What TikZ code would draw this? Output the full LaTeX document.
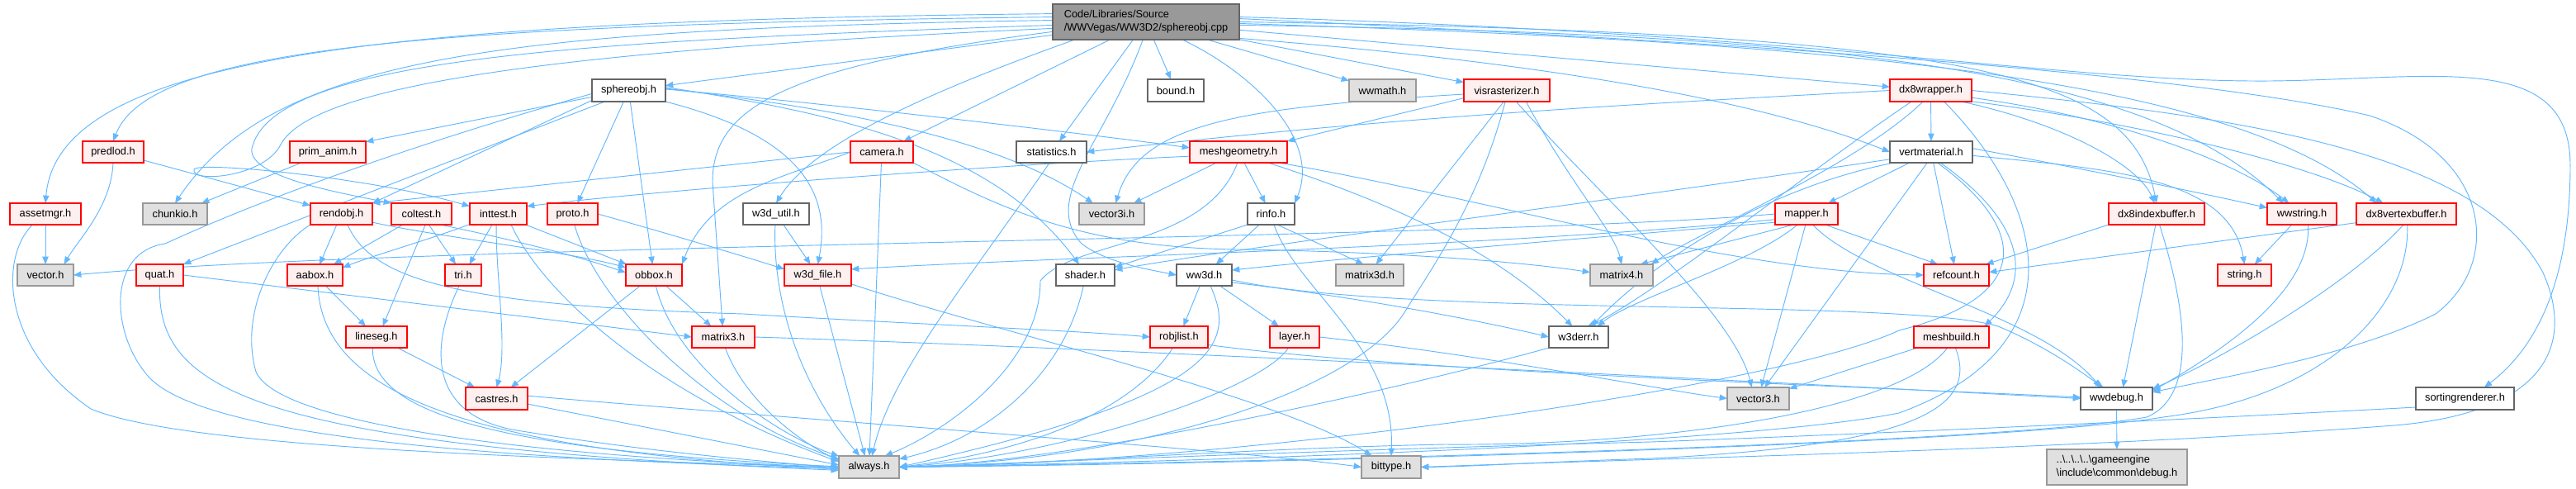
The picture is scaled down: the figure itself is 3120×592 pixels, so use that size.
\documentclass[tikz,border=0pt]{standalone}
\usepackage{fontspec}
\setmainfont{Liberation Sans}
\usetikzlibrary{arrows.meta}
\definecolor{ecol}{RGB}{99,184,255}
\definecolor{redb}{RGB}{255,0,0}
\definecolor{redf}{RGB}{255,240,240}
\definecolor{grayb}{RGB}{153,153,153}
\definecolor{grayf}{RGB}{224,224,224}
\definecolor{darkb}{RGB}{102,102,102}
\definecolor{rootf}{RGB}{153,153,153}
\pgfdeclarelayer{edges}
\pgfsetlayers{edges,main}
\newcommand{\mknode}[7]{\node[#1, minimum width={(#5-#3)*0.75pt}, minimum height={(#6-#4)*0.75pt}] (#2) at ({(#3+#5)/2},{(#4+#6)/2}) {#7};}
\begin{document}
\begin{tikzpicture}[x=0.75pt,y=-0.75pt,
  box/.style={draw, line width=0.85pt, inner sep=0pt, outer sep=0pt, font=\fontsize{9.6}{12}\selectfont, text=black},
  wn/.style={box, draw=darkb, fill=white},
  rn/.style={box, draw=redb, fill=redf},
  gn/.style={box, draw=grayb, fill=grayf},
  rootn/.style={box, draw=darkb, fill=rootf, align=left},
  lnk/.style={draw=ecol, line width=0.7pt, -{Triangle[length=7pt,width=5.5pt]}}]
\useasboundingbox (0,0) rectangle (3120,592);
% nodes
\mknode{rootn}{R}{1275}{5}{1501}{48}{Code/Libraries/Source\\/WWVegas/WW3D2/sphereobj.cpp}
\mknode{wn}{S}{717}{96}{806}{123}{sphereobj.h}
\mknode{wn}{BO}{1390}{96}{1458}{123}{bound.h}
\mknode{gn}{WM}{1634}{96}{1715}{123}{wwmath.h}
\mknode{rn}{VR}{1773}{96}{1877}{123}{visrasterizer.h}
\mknode{rn}{DW}{2289}{96}{2388}{123}{dx8wrapper.h}
\mknode{rn}{PL}{100}{171}{174}{197}{predlod.h}
\mknode{rn}{PA}{351}{171}{443}{197}{prim\_anim.h}
\mknode{rn}{CA}{1030}{171}{1106}{197}{camera.h}
\mknode{wn}{ST}{1231}{171}{1316}{197}{statistics.h}
\mknode{rn}{MG}{1441}{171}{1559}{197}{meshgeometry.h}
\mknode{wn}{VM}{2289}{171}{2389}{197}{vertmaterial.h}
\mknode{rn}{AM}{12}{246}{98}{272}{assetmgr.h}
\mknode{gn}{CK}{173}{246}{251}{272}{chunkio.h}
\mknode{rn}{RO}{376}{246}{451}{272}{rendobj.h}
\mknode{rn}{CT}{474}{246}{547}{272}{coltest.h}
\mknode{rn}{IT}{569}{246}{638}{272}{inttest.h}
\mknode{rn}{PR}{663}{246}{724}{272}{proto.h}
\mknode{wn}{WU}{900}{246}{980}{272}{w3d\_util.h}
\mknode{gn}{V3I}{1307}{246}{1386}{272}{vector3i.h}
\mknode{wn}{RI}{1511}{246}{1568}{272}{rinfo.h}
\mknode{rn}{MP}{2150}{246}{2226}{272}{mapper.h}
\mknode{rn}{DIB}{2554}{246}{2670}{272}{dx8indexbuffer.h}
\mknode{rn}{WS}{2746}{246}{2830}{272}{wwstring.h}
\mknode{rn}{DVB}{2854}{246}{2975}{272}{dx8vertexbuffer.h}
\mknode{gn}{VE}{21}{320}{89}{346}{vector.h}
\mknode{rn}{QU}{165}{320}{222}{346}{quat.h}
\mknode{rn}{AB}{348}{320}{415}{346}{aabox.h}
\mknode{rn}{TR}{539}{320}{583}{346}{tri.h}
\mknode{rn}{OB}{758}{320}{826}{346}{obbox.h}
\mknode{rn}{WF}{950}{320}{1031}{346}{w3d\_file.h}
\mknode{wn}{SH}{1279}{320}{1350}{346}{shader.h}
\mknode{wn}{W3}{1425}{320}{1492}{346}{ww3d.h}
\mknode{gn}{M3D}{1618}{320}{1700}{346}{matrix3d.h}
\mknode{gn}{M4}{1926}{320}{2002}{346}{matrix4.h}
\mknode{rn}{RC}{2330}{320}{2409}{346}{refcount.h}
\mknode{rn}{STR}{2686}{320}{2751}{346}{string.h}
\mknode{rn}{LS}{419}{395}{493}{421}{lineseg.h}
\mknode{rn}{M3}{838}{395}{914}{421}{matrix3.h}
\mknode{rn}{RL}{1393}{395}{1463}{421}{robjlist.h}
\mknode{rn}{LA}{1538}{395}{1598}{421}{layer.h}
\mknode{wn}{WE}{1876}{395}{1948}{421}{w3derr.h}
\mknode{rn}{MB}{2318}{395}{2409}{421}{meshbuild.h}
\mknode{rn}{CR}{564}{469}{639}{496}{castres.h}
\mknode{gn}{V3}{2092}{469}{2167}{496}{vector3.h}
\mknode{wn}{WD}{2520}{469}{2607}{496}{wwdebug.h}
\mknode{wn}{SR}{2926}{469}{3045}{496}{sortingrenderer.h}
\mknode{gn}{AL}{1016}{552}{1089}{579}{always.h}
\mknode{gn}{BT}{1649}{552}{1721}{579}{bittype.h}
\mknode{gn,align=left}{DB}{2479}{544}{2649}{587}{..\textbackslash..\textbackslash..\textbackslash..\textbackslash gameengine\\\textbackslash include\textbackslash common\textbackslash debug.h}
\begin{pgfonlayer}{edges}
\fill[white] (0,0) rectangle (3120,592);
% root
\draw[lnk] (R.188) -- (S);
\draw[lnk] (R) -- (BO);
\draw[lnk] (R) -- (WM);
\draw[lnk] (R) -- (VR);
\draw[lnk] (R) -- (DW);
\draw[lnk] (R) -- (CA);
\draw[lnk] (R) -- (ST);
\draw[lnk] (R.350) .. controls (1800,70) and (2100,110) .. (VM.west);
\draw[lnk] (R.175) .. controls (450,25) and (70,70) .. (AM.north);
\draw[lnk] (R.177) .. controls (500,30) and (180,60) .. (PL.north);
\draw[lnk] (R.179) .. controls (600,35) and (330,70) .. (CK.north);
\draw[lnk] (R.182) .. controls (700,50) and (330,70) .. (305,180) .. controls (300,215) and (420,235) .. (CT.north west);
\draw[lnk] (R.184) .. controls (700,60) and (380,100) .. (340,175) .. controls (320,215) and (230,222) .. (235,205) .. controls (240,195) and (450,215) .. (IT.165);
\draw[lnk] (R.186) .. controls (950,80) and (863,130) .. (863,220) -- (M3);
\draw[lnk] (R.194) .. controls (1100,120) and (980,180) .. (WU.north);
\draw[lnk] (R.260) .. controls (1340,170) and (1260,240) .. (1310,295) .. controls (1340,318) and (1390,326) .. (W3.west);
\draw[lnk] (R.334) .. controls (1520,90) and (1600,170) .. (RI.north east);
\draw[lnk] (R.0) .. controls (2400,40) and (2580,90) .. (DIB.north);
\draw[lnk] (R.3) .. controls (2200,40) and (2500,100) .. (2750,98) .. controls (2950,96) and (3113,60) .. (3113,200) .. controls (3113,360) and (3060,430) .. (SR.30);
\draw[lnk] (R.2) .. controls (2300,60) and (2700,100) .. (2870,140) .. controls (3020,190) and (3030,320) .. (2950,380) .. controls (2850,430) and (2700,455) .. (WD.10);
\draw[lnk] (R.359) .. controls (2200,50) and (2700,90) .. (DVB.160);
\draw[lnk] (R.358) .. controls (2200,40) and (2600,80) .. (WS.150);
% sphereobj
\draw[lnk] (S.190) -- (PA.15);
\draw[lnk] (S.195) -- (RO.north east);
\draw[lnk] (S.205) -- (QU.north east);
\draw[lnk] (S.185) .. controls (500,175) and (320,240) .. (200,295) .. controls (130,305) and (135,400) .. (175,450) .. controls (230,530) and (600,555) .. (AL.183);
\draw[lnk] (S) -- (PR);
\draw[lnk] (S) -- (OB);
\draw[lnk] (S.south east) .. controls (950,160) and (1010,220) .. (WF.north);
\draw[lnk] (S.5) .. controls (1000,135) and (1200,175) .. (SH.120);
\draw[lnk] (S.3) .. controls (1050,135) and (1220,175) .. (V3I.150);
\draw[lnk] (S.2) .. controls (1000,125) and (1300,160) .. (MG.175);
% predlod, assetmgr, prim_anim
\draw[lnk] (PL) -- (RO);
\draw[lnk] (PL.south) .. controls (135,250) and (95,290) .. (VE.30);
\draw[lnk] (AM) -- (VE);
\draw[lnk] (AM.220) .. controls (0,310) and (0,420) .. (110,495) .. controls (230,545) and (700,555) .. (AL.181);
\draw[lnk] (PA) -- (CK);
% camera, statistics
\draw[lnk] (CA) -- (AL);
\draw[lnk] (CA.west) .. controls (950,215) and (860,230) .. (OB.north east);
\draw[lnk] (CA.west) -- (RO.north east);
\draw[lnk] (CA.south east) .. controls (1200,245) and (1300,300) .. (1500,302) .. controls (1700,305) and (1850,318) .. (M4.175);
\draw[lnk] (ST.260) .. controls (1180,330) and (1080,450) .. (AL.75);
% meshgeometry
\draw[lnk] (MG) -- (V3I);
\draw[lnk] (MG) -- (RI);
\draw[lnk] (MG.185) .. controls (1200,200) and (800,230) .. (IT.15);
\draw[lnk] (MG.345) .. controls (1800,240) and (2100,330) .. (RC.west);
\draw[lnk] (MG.340) .. controls (1700,250) and (1820,310) .. (WE.120);
\draw[lnk] (MG.265) .. controls (1460,300) and (1300,290) .. (1260,340) .. controls (1260,440) and (1150,520) .. (AL.35);
% visrasterizer
\draw[lnk] (VR.190) -- (MG.north east);
\draw[lnk] (VR.185) .. controls (1500,130) and (1380,150) .. (V3I.70);
\draw[lnk] (VR.255) -- (M3D.60);
\draw[lnk] (VR.262) .. controls (1790,250) and (1730,330) .. (1700,380) .. controls (1640,470) and (1400,555) .. (AL.east);
\draw[lnk] (VR.310) .. controls (1950,250) and (2100,380) .. (V3.120);
\draw[lnk] (VR.330) .. controls (1900,220) and (1955,280) .. (M4.north);
% vertmaterial
\draw[lnk] (VM) -- (MP);
\draw[lnk] (VM.190) .. controls (1900,250) and (1500,300) .. (SH.10);
\draw[lnk] (VM) -- (RC);
\draw[lnk] (VM.250) -- (V3.60);
\draw[lnk] (VM.5) .. controls (2500,200) and (2650,230) .. (WS.170);
\draw[lnk] (VM.355) .. controls (2560,205) and (2700,215) .. (STR.north);
\draw[lnk] (VM.310) .. controls (2440,260) and (2470,330) .. (MB.18);
\draw[lnk] (VM.300) .. controls (2460,280) and (2460,360) .. (2300,400) .. controls (2150,470) and (1500,560) .. (AL.east);
\draw[lnk] (VM.196) .. controls (2130,230) and (2000,320) .. (WE.40);
% dx8wrapper
\draw[lnk] (DW) -- (VM);
\draw[lnk] (DW.west) .. controls (2000,125) and (1700,140) .. (ST.east);
\draw[lnk] (DW.235) .. controls (2250,200) and (2060,280) .. (M4.20);
\draw[lnk] (DW.350) .. controls (2550,140) and (2700,190) .. (WS.140);
\draw[lnk] (DW.345) .. controls (2600,150) and (2800,200) .. (DVB.155);
\draw[lnk] (DW.340) .. controls (2500,150) and (2590,200) .. (DIB.100);
\draw[lnk] (DW.210) .. controls (2200,200) and (2000,360) .. (WE.50);
\draw[lnk] (DW.0) .. controls (2700,140) and (3000,180) .. (3080,330) .. controls (3120,420) and (3080,500) .. (2900,515) .. controls (2500,545) and (2000,555) .. (BT.east);
\draw[lnk] (DW.320) .. controls (2480,250) and (2520,420) .. (2300,500) .. controls (2100,540) and (1400,560) .. (AL.east);
% mapper
\draw[lnk] (MP.west) .. controls (1800,290) and (500,295) .. (VE.east);
\draw[lnk] (MP.190) .. controls (1800,300) and (1300,310) .. (WF.10);
\draw[lnk] (MP.195) .. controls (1900,290) and (1600,315) .. (W3.10);
\draw[lnk] (MP.220) -- (M4.30);
\draw[lnk] (MP.265) -- (V3.75);
\draw[lnk] (MP.300) .. controls (2260,340) and (2470,380) .. (WD.145);
\draw[lnk] (MP.330) -- (RC.150);
\draw[lnk] (MP.230) .. controls (2120,320) and (1980,360) .. (WE.30);
% rinfo
\draw[lnk] (RI.south west) -- (SH.15);
\draw[lnk] (RI) -- (W3);
\draw[lnk] (RI.300) -- (M3D.120);
\draw[lnk] (RI.285) .. controls (1570,350) and (1690,420) .. (BT.north);
% ww3d, robjlist, layer
\draw[lnk] (W3) -- (RL);
\draw[lnk] (W3) -- (LA);
\draw[lnk] (W3.300) .. controls (1500,420) and (1470,480) .. (AL.east);
\draw[lnk] (W3.345) .. controls (1650,360) and (1800,390) .. (WE.west);
\draw[lnk] (W3.350) .. controls (1700,385) and (2300,360) .. (2420,395) .. controls (2480,420) and (2520,450) .. (WD.140);
\draw[lnk] (RL.240) .. controls (1390,470) and (1300,540) .. (AL.east);
\draw[lnk] (RL.345) .. controls (1700,450) and (2300,470) .. (WD.178);
\draw[lnk] (LA.240) .. controls (1530,470) and (1300,550) .. (AL.east);
\draw[lnk] (LA.east) .. controls (1800,430) and (2000,470) .. (V3.west);
% rendobj
\draw[lnk] (RO) -- (AB);
\draw[lnk] (RO.345) .. controls (520,285) and (690,305) .. (OB.165);
\draw[lnk] (RO.south west) .. controls (330,300) and (290,380) .. (310,450) .. controls (340,520) and (700,555) .. (AL.west);
\draw[lnk] (RO.300) .. controls (450,340) and (560,370) .. (900,380) .. controls (1100,392) and (1300,400) .. (RL.west);
% coltest, inttest
\draw[lnk] (CT) -- (AB);
\draw[lnk] (CT) -- (TR);
\draw[lnk] (CT.290) -- (LS.60);
\draw[lnk] (CT.330) .. controls (620,290) and (700,310) .. (OB.175);
\draw[lnk] (IT) -- (TR);
\draw[lnk] (IT.200) .. controls (520,290) and (450,310) .. (AB.15);
\draw[lnk] (IT) -- (OB);
\draw[lnk] (IT.260) .. controls (600,330) and (615,420) .. (CR.north);
\draw[lnk] (IT.320) .. controls (660,360) and (800,480) .. (AL.170);
% proto, w3d_util
\draw[lnk] (PR.280) .. controls (720,360) and (850,500) .. (AL.165);
\draw[lnk] (PR.east) .. controls (800,280) and (900,310) .. (WF.170);
\draw[lnk] (WU) -- (WF);
\draw[lnk] (WU.265) .. controls (935,380) and (980,480) .. (AL.130);
% quat, aabox, tri, obbox
\draw[lnk] (QU.south) .. controls (190,470) and (300,540) .. (AL.186);
\draw[lnk] (QU.east) -- (M3.west);
\draw[lnk] (AB) -- (LS);
\draw[lnk] (AB.285) .. controls (390,470) and (550,545) .. (AL.184);
\draw[lnk] (TR.250) .. controls (520,420) and (520,500) .. (620,520) .. controls (800,550) and (950,560) .. (AL.182);
\draw[lnk] (OB) -- (M3);
\draw[lnk] (OB) -- (CR);
\draw[lnk] (OB.280) .. controls (820,450) and (950,530) .. (AL.160);
% w3d_file, shader, lineseg, matrix3, castres
\draw[lnk] (WF.280) -- (AL.110);
\draw[lnk] (WF.345) .. controls (1200,400) and (1550,480) .. (BT.150);
\draw[lnk] (SH.260) .. controls (1290,450) and (1200,530) .. (AL.15);
\draw[lnk] (LS) -- (CR);
\draw[lnk] (LS.250) .. controls (450,500) and (600,545) .. (AL.179);
\draw[lnk] (M3.280) .. controls (900,480) and (960,530) .. (AL.168);
\draw[lnk] (M3.east) .. controls (1300,420) and (2000,455) .. (WD.west);
\draw[lnk] (CR.350) -- (AL.176);
\draw[lnk] (CR.5) .. controls (1000,510) and (1500,545) .. (BT.west);
% w3derr, meshbuild
\draw[lnk] (WE.200) .. controls (1700,470) and (1300,560) .. (AL.east);
\draw[lnk] (MB) -- (V3);
\draw[lnk] (MB.250) .. controls (2300,500) and (2000,540) .. (1750,538) .. controls (1500,543) and (1200,565) .. (AL.east);
\draw[lnk] (MB.290) .. controls (2400,500) and (2300,540) .. (2000,555) .. controls (1850,560) and (1780,565) .. (BT.east);
% dx8indexbuffer, dx8vertexbuffer, wwstring
\draw[lnk] (DIB.south west) -- (RC.20);
\draw[lnk] (DIB.265) -- (WD.60);
\draw[lnk] (DIB.285) .. controls (2650,380) and (2660,480) .. (2600,505) .. controls (2400,540) and (1500,560) .. (AL.east);
\draw[lnk] (DVB.190) -- (RC.5);
\draw[lnk] (DVB.255) .. controls (2850,340) and (2700,430) .. (WD.15);
\draw[lnk] (DVB.275) .. controls (2920,370) and (2820,480) .. (2620,505) .. controls (2400,540) and (1500,562) .. (AL.east);
\draw[lnk] (WS) -- (STR);
\draw[lnk] (WS.300) .. controls (2800,350) and (2700,420) .. (WD.12);
% sortingrenderer, wwdebug
\draw[lnk] (SR.190) .. controls (2800,500) and (2400,520) .. (2000,535) .. controls (1600,545) and (1250,560) .. (AL.east);
\draw[lnk] (WD) -- (DB);
\end{pgfonlayer}
\end{tikzpicture}
\end{document}
